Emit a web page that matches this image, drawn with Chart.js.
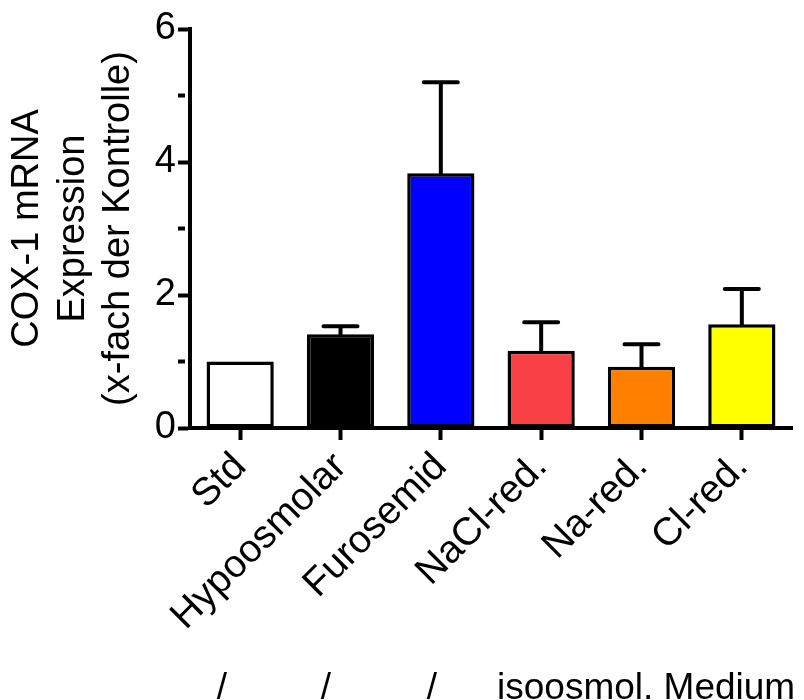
<!DOCTYPE html>
<html>
<head>
<meta charset="utf-8">
<script src="https://cdn.jsdelivr.net/npm/chart.js@4"></script>
<style>
  body { margin: 0; background: #fff; }
  #wrap { width: 804px; height: 700px; }
</style>
</head>
<body>
<div id="wrap"><canvas id="coxChart" width="804" height="700"></canvas></div>
<script>
// group labels and values
const groups = ['Std', 'Hypoosmolar', 'Furosemid', 'NaCl-red.', 'Na-red.', 'Cl-red.'];
const means = [1.0, 1.41, 3.83, 1.16, 0.92, 1.56];
const sem = [0, 0.12, 1.37, 0.43, 0.34, 0.53];
const barColors = ['#ffffff', '#000000', '#0000ff', '#f94044', '#ff8000', '#ffff00'];
const yTitle = ['COX-1 mRNA', 'Expression', '(x-fach der Kontrolle)'];
const footNote = ['/', '/', '/', 'isoosmol. Medium'];

const FONT = '"Liberation Sans", Arial, Helvetica, sans-serif';

// SEM whiskers on top of each bar
const errorBars = {
  id: 'errorBars',
  afterDatasetsDraw(chart) {
    const meta = chart.getDatasetMeta(0);
    const y = chart.scales.y;
    const ctx = chart.ctx;
    ctx.save();
    ctx.strokeStyle = '#000';
    ctx.lineWidth = 4;
    ctx.lineCap = 'round';
    meta.data.forEach((bar, i) => {
      if (!sem[i]) return;
      const top = y.getPixelForValue(means[i] + sem[i]);
      ctx.beginPath();
      ctx.moveTo(bar.x, bar.y);
      ctx.lineTo(bar.x, top);
      ctx.moveTo(bar.x - 17, top);
      ctx.lineTo(bar.x + 17, top);
      ctx.stroke();
    });
    ctx.restore();
  }
};

// the line of text under the chart
const footer = {
  id: 'footer',
  afterDraw(chart) {
    const ctx = chart.ctx;
    const xs = [222, 326, 432];
    ctx.save();
    ctx.fillStyle = '#000';
    ctx.font = '37px ' + FONT;
    ctx.textBaseline = 'alphabetic';
    ctx.textAlign = 'center';
    for (let i = 0; i < 3; i++) ctx.fillText(footNote[i], xs[i], 699);
    ctx.textAlign = 'left';
    ctx.fillText(footNote[3], 497, 699);
    ctx.restore();
  }
};

const ctx = document.getElementById('coxChart').getContext('2d');

const coxChart = new Chart(ctx, {
  type: 'bar',
  data: {
    labels: groups,
    datasets: [{
      data: means,
      backgroundColor: barColors,
      borderColor: '#000',
      borderWidth: 3.5,
      borderSkipped: false,
      barPercentage: 0.67,
      categoryPercentage: 1.0
    }]
  },
  options: {
    responsive: false,
    animation: false,
    layout: { padding: { top: 29, right: 12, left: 0, bottom: 0 } },
    plugins: {
      legend: { display: false },
      tooltip: { enabled: false }
    },
    scales: {
      x: {
        afterFit: s => { s.height = 272; },
        border: { display: true, color: '#000', width: 4 },
        grid: {
          offset: false,
          drawOnChartArea: false,
          tickLength: 12,
          tickWidth: 4,
          tickColor: '#000'
        },
        ticks: {
          color: '#000',
          font: { family: FONT, size: 39 },
          minRotation: 45,
          maxRotation: 45,
          padding: 4
        }
      },
      y: {
        min: 0,
        max: 6,
        afterFit: s => { s.width = 190; },
        border: { display: true, color: '#000', width: 4 },
        grid: {
          drawOnChartArea: false,
          tickLength: 12,
          tickWidth: 4,
          tickColor: '#000',
          tickBorderDash: c => (c.tick && c.tick.value % 2) ? [7, 30] : []
        },
        ticks: {
          stepSize: 1,
          color: '#000',
          font: { family: FONT, size: 38 },
          padding: 2,
          callback: v => (v % 2 === 0 ? v : '')
        },
        title: {
          display: true,
          text: yTitle,
          color: '#000',
          font: { family: FONT, size: 38, lineHeight: 1.2 },
          padding: { top: 5, bottom: 0 }
        }
      }
    }
  },
  plugins: [errorBars, footer]
});
</script>
</body>
</html>
